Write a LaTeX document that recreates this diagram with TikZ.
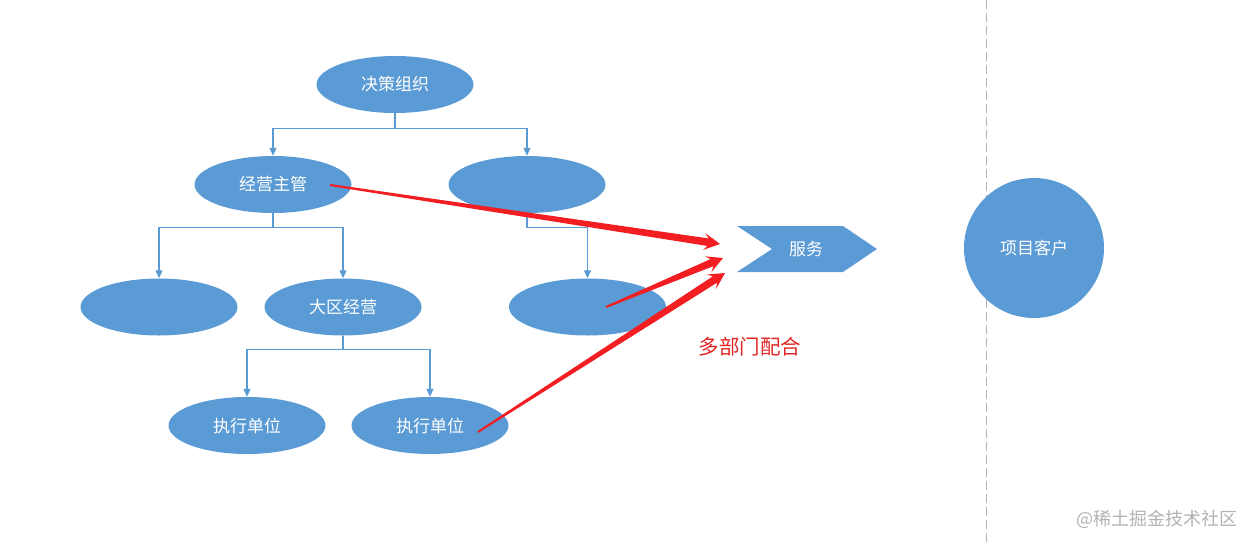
\documentclass[tikz,border=0pt]{standalone}
\usepackage{fontspec}
\newfontfamily\cjk{Noto Sans CJK SC}
\usetikzlibrary{shapes.geometric,arrows.meta,calc}
\definecolor{oblue}{RGB}{91,155,213}
\definecolor{ared}{RGB}{242,30,34}
\definecolor{tred}{RGB}{226,36,36}
\definecolor{wgray}{RGB}{178,178,178}
\definecolor{dgray}{RGB}{180,180,180}
\newcommand\taperarrow[2]{%
  \path ($(#2)!12pt!(#1)$) coordinate (ta-b) ($(#2)!16pt!(#1)$) coordinate (ta-w);
  \fill[ared] ($(#1)!1pt!90:(#2)$) -- ($(ta-b)!3.8pt!90:(#2)$) -- ($(ta-w)!8.5pt!90:(#2)$) -- (#2)
    -- ($(ta-w)!8.5pt!-90:(#2)$) -- ($(ta-b)!3.8pt!-90:(#2)$) -- ($(#1)!1pt!-90:(#2)$) -- cycle;}
\begin{document}
\begin{tikzpicture}[x=1pt,y=-1pt,
  every node/.style={font=\cjk\fontsize{17}{20}\selectfont},
  org/.style={ellipse, fill=oblue, text=white, minimum width=157pt, minimum height=57pt, inner sep=0pt},
  conn/.style={draw=oblue, line width=1.2pt, -{Triangle[length=8pt,width=7pt]}}]
\useasboundingbox (0,0) rectangle (1256,544);
% dashed divider
\coordinate (dtop) at (986,0);
\coordinate (dbot) at (986,544);
\draw[dgray, line width=1pt, dash pattern=on 9pt off 4pt] (dtop) -- (dbot);
% org nodes
\node[org] (top) at (395,84.5) {决策组织};
\node[org] (mgr) at (273,184.5) {经营主管};
\node[org] (rt)  at (527,184.5) {};
\node[org] (l2a) at (159,307) {};
\node[org] (reg) at (343,307) {大区经营};
\node[org] (rb)  at (587.5,307) {};
\node[org] (ex1) at (247,425.5) {执行单位};
\node[org] (ex2) at (430,425.5) {执行单位};
% connectors
\draw[conn] (top.south) -- ++(0,15) -| (mgr.north);
\draw[conn] (top.south) -- ++(0,15) -| (rt.north);
\draw[conn] (mgr.south) -- ++(0,14) -| (l2a.north);
\draw[conn] (mgr.south) -- ++(0,14) -| (reg.north);
\draw[conn] (rt.south) -- ++(0,14) -| (rb.north);
\draw[conn] (reg.south) -- ++(0,14) -| (ex1.north);
\draw[conn] (reg.south) -- ++(0,14) -| (ex2.north);
% service chevron
\fill[oblue] (737,226) -- (843,226) -- (877,249) -- (843,272) -- (737,272) -- (772,249) -- cycle;
\node[text=white] (srv) at (806,249) {服务};
% customer circle
\node[circle, fill=oblue, text=white, minimum size=140pt, inner sep=0pt] (cust) at (1034,248) {项目客户};
% red arrows
\coordinate (s1) at (330,185);
\coordinate (t1) at (720,244);
\coordinate (s2) at (606,307);
\coordinate (t2) at (723,258);
\coordinate (s3) at (478,432);
\coordinate (t3) at (725,273);
\taperarrow{s1}{t1}
\taperarrow{s2}{t2}
\taperarrow{s3}{t3}
% labels
\node[text=tred, font=\cjk\fontsize{20.5}{24}\selectfont] (coop) at (750,347) {多部门配合};
\node[text=wgray, font=\cjk\fontsize{18}{22}\selectfont] (wm) at (1157,519) {@稀土掘金技术社区};
\end{tikzpicture}
\end{document}
